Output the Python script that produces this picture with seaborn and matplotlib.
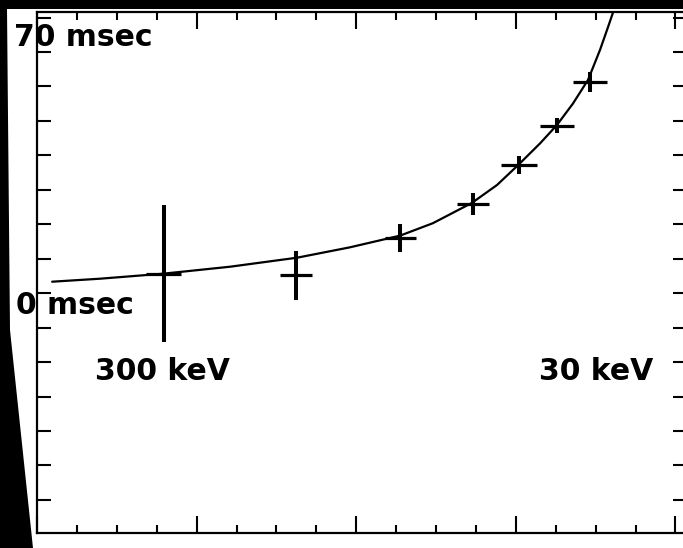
import matplotlib
matplotlib.use("Agg")
import matplotlib.pyplot as plt
from matplotlib.patches import Polygon
from matplotlib.ticker import MultipleLocator
import pandas as pd
import seaborn as sns

# ---- data ----
point_x = [3.18, 6.49, 9.10, 10.93, 12.08, 13.03, 13.86]
point_y = [5.7, 5.2, 16.1, 25.9, 37.2, 48.6, 61.4]
point_xerr = [0.44, 0.40, 0.39, 0.41, 0.45, 0.43, 0.43]
point_yerr = [20.0, 7.1, 4.1, 3.2, 2.5, 2.2, 2.9]

curve_x = [0.38, 1.58, 3.16, 4.84, 6.52, 7.84, 9.10, 9.92, 10.90, 11.53,
           12.06, 12.61, 13.03, 13.43, 13.81, 14.11, 14.31, 14.44, 14.51]
curve_y = [3.33, 4.2, 5.65, 7.68, 10.3, 13.3, 16.7, 20.3, 26.2, 31.4,
           37.2, 43.5, 48.8, 55.0, 61.9, 70.6, 77.2, 81.6, 84.0]

labels = ["70 msec", "0 msec", "300 keV", "30 keV"]

# ---- figure ----
sns.set_theme(style="white")
plt.rcParams['font.family'] = ['DejaVu Sans']

W, H = 683, 548
fig = plt.figure(figsize=(W / 100, H / 100), dpi=100, facecolor="black")

# white page (photographed sheet) behind the axes
page = Polygon([(7 / W, 1 - 9 / H), (1, 1 - 9 / H), (1, 0), (33 / W, 0),
                (10 / W, 1 - 330 / H)],
               closed=True, transform=fig.transFigure, facecolor="white",
               edgecolor="none", zorder=0)
fig.add_artist(page)

ax = fig.add_axes([37 / W, 15 / H, 650 / W, 521 / H])
ax.set_facecolor("white")

curve = pd.DataFrame({"x": curve_x, "y": curve_y})
sns.lineplot(data=curve, x="x", y="y", ax=ax, color="black", linewidth=1.6,
             sort=False, estimator=None)

ax.errorbar(point_x, point_y, yerr=point_yerr, fmt="none", ecolor="black",
            elinewidth=2.9, capsize=0, zorder=3)
ax.errorbar(point_x, point_y, xerr=point_xerr, fmt="none", ecolor="black",
            elinewidth=2.3, capsize=0, zorder=3)

ax.set_xlim(0, 16.29)
ax.set_ylim(-69.6, 81.6)
ax.set_xlabel("")
ax.set_ylabel("")

ax.xaxis.set_major_locator(MultipleLocator(4))
ax.xaxis.set_minor_locator(MultipleLocator(1))
ax.yaxis.set_major_locator(MultipleLocator(10))
ax.tick_params(axis="both", which="both", direction="in", top=True,
               bottom=True, left=True, right=True, labelbottom=False,
               labelleft=False, colors="black", width=1.5)
ax.tick_params(axis="x", which="major", length=12)
ax.tick_params(axis="x", which="minor", length=6)
ax.tick_params(axis="y", which="major", length=10)

for s in ax.spines.values():
    s.set_visible(True)
    s.set_color("black")
    s.set_linewidth(1.6)

style = dict(fontsize=21.5, fontweight="bold", color="black", va="center")
fig.text(14 / W, 1 - 38 / H, labels[0], ha="left", **style)
fig.text(16 / W, 1 - 305 / H, labels[1], ha="left", **style)
fig.text(95 / W, 1 - 371 / H, labels[2], ha="left", **style)
fig.text(653 / W, 1 - 372 / H, labels[3], ha="right", **style)

fig.savefig("out.png", dpi=100, facecolor=fig.get_facecolor())
